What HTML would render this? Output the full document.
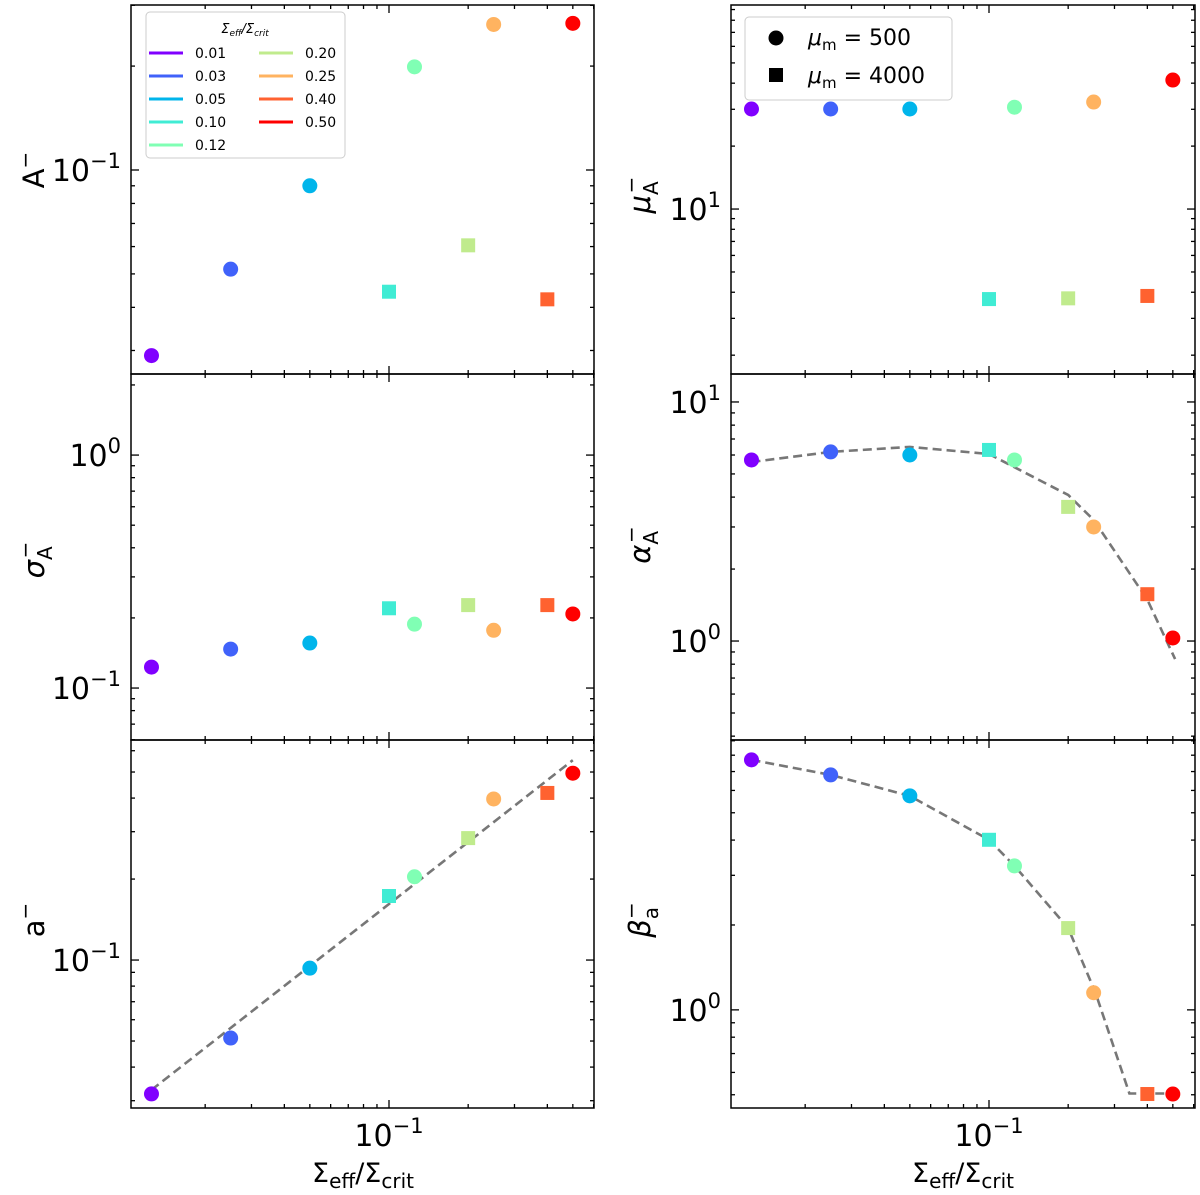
<!DOCTYPE html>
<html><head><meta charset="utf-8"><style>
html,body{margin:0;padding:0;background:#fff;}
svg{display:block;font-family:"DejaVu Sans","Liberation Sans",sans-serif;}
</style></head><body>
<svg id="fig" width="1200" height="1195" viewBox="0 0 1200 1195" xmlns="http://www.w3.org/2000/svg"></svg>
<script>
// ---- data ----
const xVals = [0.0125, 0.025, 0.05, 0.1, 0.125, 0.2, 0.25, 0.4, 0.5];
const xLabels = ["0.01","0.03","0.05","0.10","0.12","0.20","0.25","0.40","0.50"];
const colors = ["#8000ff","#4062fa","#00b5eb","#40ecd4","#80ffb4","#c0eb8d","#ffb360","#ff6230","#ff0000"];
const markers = ["o","o","o","s","o","s","o","s","o"];
const topMuA = [0.029, 0.0516, 0.090, 0.0444, 0.199, 0.0605, 0.264, 0.0422, 0.266];
const sigmaA = [0.123, 0.147, 0.156, 0.220, 0.188, 0.227, 0.177, 0.227, 0.208];
const aVals = [0.0318, 0.0513, 0.0933, 0.173, 0.204, 0.284, 0.397, 0.418, 0.495];
const muA = [30.1, 30.1, 30.1, 3.71, 30.7, 3.74, 32.5, 3.84, 41.4];
const alphaA = [5.72, 6.18, 6.0, 6.3, 5.72, 3.64, 3.0, 1.57, 1.03];
const betaA = [7.70, 6.81, 5.74, 4.01, 3.24, 1.95, 1.15, 0.503, 0.503];
const aFitX = [0.0125, 0.5];
const aFitY = [0.0329, 0.553];
const alphaFitX = [0.0125, 0.025, 0.05, 0.1, 0.15, 0.2, 0.25, 0.4, 0.51];
const alphaFitY = [5.61, 6.18, 6.49, 6.06, 4.81, 4.08, 3.21, 1.49, 0.84];
const betaFitX = [0.0125, 0.025, 0.05, 0.1, 0.125, 0.2, 0.254, 0.342, 0.51];
const betaFitY = [7.70, 6.81, 5.74, 4.01, 3.24, 1.95, 1.15, 0.505, 0.505];

const NS = "http://www.w3.org/2000/svg";
const svg = document.getElementById("fig");
function mk(tag, attrs, parent) {
  const e = document.createElementNS(NS, tag);
  for (const k in attrs) e.setAttribute(k, attrs[k]);
  (parent || svg).appendChild(e);
  return e;
}
const panels = [
  {name:"A", left:131, right:594, top:5, bot:374, lmin:-1.591, lmax:-0.522, ys:topMuA, ticks:[-1]},
  {name:"sigma", left:131, right:594, top:374, bot:740, lmin:-1.223, lmax:0.348, ys:sigmaA, ticks:[0,-1]},
  {name:"a", left:131, right:594, top:740, bot:1108, lmin:-1.550, lmax:-0.182, ys:aVals, ticks:[-1], fx:aFitX, fy:aFitY},
  {name:"mu", left:731, right:1195, top:5, bot:374, lmin:0.211, lmax:1.976, ys:muA, ticks:[1]},
  {name:"alpha", left:731, right:1195, top:374, bot:740, lmin:-0.414, lmax:1.117, ys:alphaA, ticks:[1,0], fx:alphaFitX, fy:alphaFitY},
  {name:"beta", left:731, right:1195, top:740, bot:1108, lmin:-0.348, lmax:0.957, ys:betaA, ticks:[0], fx:betaFitX, fy:betaFitY}
];
panels.forEach(p => {
  const g = mk("g", {});
  
  
  const xs = v => p.left + 258 + 263 * (Math.log10(v) + 1);
  const yv = v => p.bot - (Math.log10(v) - p.lmin) / (p.lmax - p.lmin) * (p.bot - p.top);
  const xt = [0.02,0.03,0.04,0.05,0.06,0.07,0.08,0.09,0.1,0.2,0.3,0.4,0.5,0.6];
  xt.forEach(v => {
    const x = xs(v); if (x <= p.left || x >= p.right) return;
    const L = v === 0.1 ? 8 : 4;
    mk("line", {x1:x, x2:x, y1:p.bot, y2:p.bot - L, stroke:"#000", "stroke-width":1.3}, g);
    mk("line", {x1:x, x2:x, y1:p.top, y2:p.top + L, stroke:"#000", "stroke-width":1.3}, g);
  });
  for (let d = Math.floor(p.lmin); d <= Math.ceil(p.lmax); d++) {
    for (let m = 1; m <= 9; m++) {
      const lv = d + Math.log10(m);
      if (lv <= p.lmin || lv >= p.lmax) continue;
      const y = yv(Math.pow(10, lv));
      const L = m === 1 ? 8 : 4;
      mk("line", {x1:p.left, x2:p.left + L, y1:y, y2:y, stroke:"#000", "stroke-width":1.3}, g);
      mk("line", {x1:p.right, x2:p.right - L, y1:y, y2:y, stroke:"#000", "stroke-width":1.3}, g);
    }
  }
  p.ticks.forEach(t => {
    const y = yv(Math.pow(10, t));
    const tx = mk("text", {x:p.left - 10, y:y + 11, "text-anchor":"end", "font-size":30, fill:"#000"}, g);
    
    
    tx.appendChild(document.createTextNode("10"));
    const s = mk("tspan", {dy:-13, "font-size":21}, tx);
    s.textContent = t < 0 ? "\u2212" + (-t) : String(t);
  });
  if (p.fx) {
    const pts = p.fx.map((v, i) => xs(v).toFixed(1) + "," + yv(p.fy[i]).toFixed(1)).join(" ");
    const pl = mk("polyline", {points:pts, fill:"none", stroke:"#777", "stroke-width":2.6, "stroke-dasharray":"9,5"}, g);
    
    
  }
  p.ys.forEach((v, i) => {
    const x = xs(xVals[i]), y = yv(v);
    let e;
    if (markers[i] === "o") e = mk("circle", {cx:x, cy:y, r:7.5, fill:colors[i]}, g);
    else e = mk("rect", {x:x - 7, y:y - 7, width:14, height:14, fill:colors[i]}, g);
    
    
  });
  const fr = mk("rect", {x:p.left, y:p.top, width:p.right - p.left, height:p.bot - p.top, fill:"none", stroke:"#000", "stroke-width":1.5}, g);
  
  
});
[389, 989].forEach(cx => {
  const t = mk("text", {x:cx, y:1146, "text-anchor":"middle", "font-size":30});
  
  
  t.appendChild(document.createTextNode("10"));
  const s = mk("tspan", {dy:-13, "font-size":21}, t); s.textContent = "\u22121";
  const xl = mk("text", {x:cx - 26, y:1182, "text-anchor":"middle", "font-size":27});
  
  
  xl.appendChild(document.createTextNode("\u03a3"));
  const a = mk("tspan", {dy:6, "font-size":20}, xl); a.textContent = "eff";
  const b = mk("tspan", {dy:-6}, xl); b.textContent = "/\u03a3";
  const c = mk("tspan", {dy:6, "font-size":20}, xl); c.textContent = "crit";
});
const yTitles = [
  {x:44, y:170, main:"A", it:false, sub:"", name:"A"},
  {x:44, y:560, main:"\u03c3", it:true, sub:"A", name:"sigma"},
  {x:44, y:920, main:"a", it:false, sub:"", name:"a"},
  {x:650, y:195, main:"\u03bc", it:true, sub:"A", name:"mu"},
  {x:650, y:545, main:"\u03b1", it:true, sub:"A", name:"alpha"},
  {x:650, y:920, main:"\u03b2", it:true, sub:"a", name:"beta"}
];
yTitles.forEach(o => {
  const t = mk("text", {x:o.x, y:o.y, "text-anchor":"middle", "font-size":29, transform:"rotate(-90 " + o.x + " " + o.y + ")"});
  
  
  const m = mk("tspan", {"font-style":o.it ? "italic" : "normal"}, t); m.textContent = o.main;
  if (o.sub) { const s = mk("tspan", {dy:8, "font-size":20}, t); s.textContent = o.sub; }
  const sp = mk("tspan", {dy:o.sub ? -20 : -12, dx:o.sub ? -12 : 0, "font-size":20}, t); sp.textContent = "\u2212";
});
const lg = mk("g", {});


mk("rect", {x:146, y:12, width:199, height:146, rx:4, fill:"#fff", "fill-opacity":0.85, stroke:"#ccc"}, lg);
const lt = mk("text", {x:245, y:33, "text-anchor":"middle", "font-size":13, "font-style":"italic"}, lg);
lt.innerHTML = '\u03a3<tspan dy="3" font-size="9">eff</tspan><tspan dy="-3">/\u03a3</tspan><tspan dy="3" font-size="9">crit</tspan>';
xLabels.forEach((lab, i) => {
  const col = i < 5 ? 0 : 1, row = i < 5 ? i : i - 5;
  const x0 = col ? 259 : 149, y0 = 53 + row * 23;
  const le = mk("g", {}, lg);
  
  
  mk("line", {x1:x0, x2:x0 + 34, y1:y0, y2:y0, stroke:colors[i], "stroke-width":3}, le);
  const t = mk("text", {x:x0 + 46, y:y0 + 5, "font-size":14}, le); t.textContent = lab;
});
const ml = mk("g", {});


mk("rect", {x:745, y:17, width:207, height:83, rx:4, fill:"#fff", stroke:"#ccc"}, ml);
mk("circle", {cx:776, cy:38, r:7.5, fill:"#000"}, ml);
mk("rect", {x:769, y:68, width:14, height:14, fill:"#000"}, ml);
[[45, "500"], [83, "4000"]].forEach(([y, v]) => {
  const t = mk("text", {x:808, y:y, "font-size":22}, ml);
  t.innerHTML = '<tspan font-style="italic">\u03bc</tspan><tspan dy="5" font-size="15">m</tspan><tspan dy="-5"> = ' + v + '</tspan>';
});
</script>
</body></html>
